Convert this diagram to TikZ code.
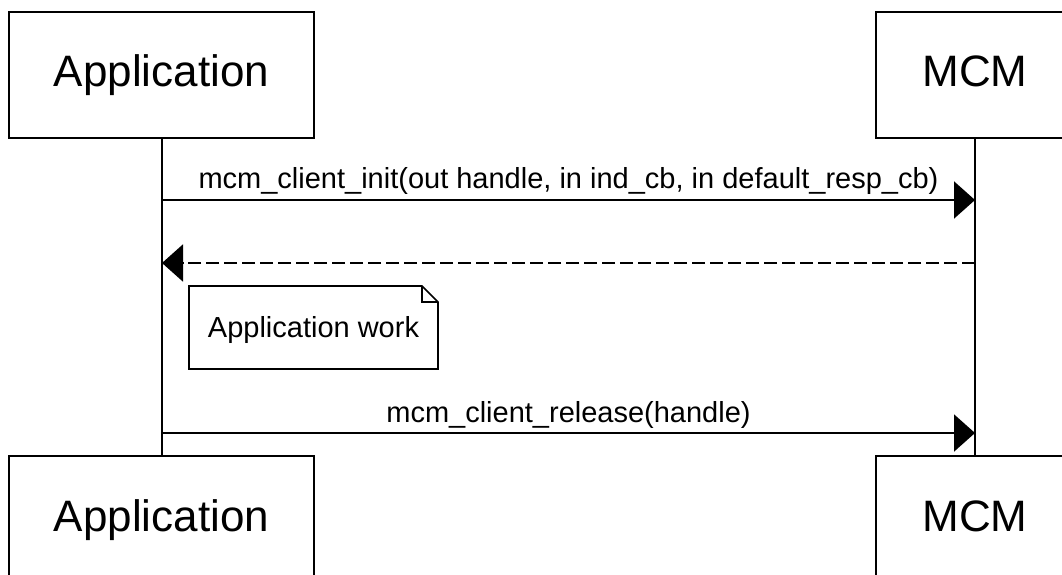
\documentclass[tikz,border=0pt]{standalone}
\usepackage{fontspec}
\setmainfont{Liberation Sans}
\usetikzlibrary{arrows.meta}
\tikzset{
  x=1pt,y=-1pt,
  actor/.style={draw,line width=2pt,minimum height=126pt,inner sep=0pt,text height=33pt,text depth=9pt,font=\fontsize{44}{50}\selectfont},
  lifeline/.style={line width=2pt},
  msg/.style={line width=2pt,-{Triangle[length=21pt,width=37pt]}},
  reply/.style={msg,dash pattern=on 13pt off 5pt},
  lbl/.style={font=\fontsize{29}{34}\selectfont,inner sep=0pt,anchor=base},
  notebox/.style={line width=1.6pt},
}
\begin{document}
\begin{tikzpicture}
\useasboundingbox (0,0) rectangle (1062,575);
\clip (0,0) rectangle (1062,575);
\fill[white] (0,0) rectangle (1062,575);
% actors
\node[actor,minimum width=305pt] (appT) at (161.5,75) {Application};
\node[actor,minimum width=198pt] (mcmT) at (975,75) {MCM};
\node[actor,minimum width=305pt] (appB) at (161.5,519) {Application};
\node[actor,minimum width=198pt] (mcmB) at (975,519) {MCM};
% lifelines
\draw[lifeline] (appT.south) -- (appB.north);
\draw[lifeline] (mcmT.south) -- (mcmB.north);
% message anchor points
\coordinate (a1) at (162,200);
\coordinate (m1) at (975,200);
\coordinate (a2) at (162,263);
\coordinate (m2) at (975,263);
\coordinate (a3) at (162,433);
\coordinate (m3) at (975,433);
\draw[msg] (a1) -- (m1);
\node[lbl] (l1) at (568.5,188) {mcm\_client\_init(out handle, in ind\_cb, in default\_resp\_cb)};
\draw[reply] (m2) -- (a2);
\draw[msg] (a3) -- (m3);
\node[lbl] (l3) at (568.5,422) {mcm\_client\_release(handle)};
% note
\draw[notebox,fill=white] (189,286) -- (422,286) -- (438,302) -- (438,369) -- (189,369) -- cycle;
\draw[notebox] (422,286) -- (422,302) -- (438,302);
\node[lbl] (note) at (313.5,337) {Application work};
\end{tikzpicture}
\end{document}
